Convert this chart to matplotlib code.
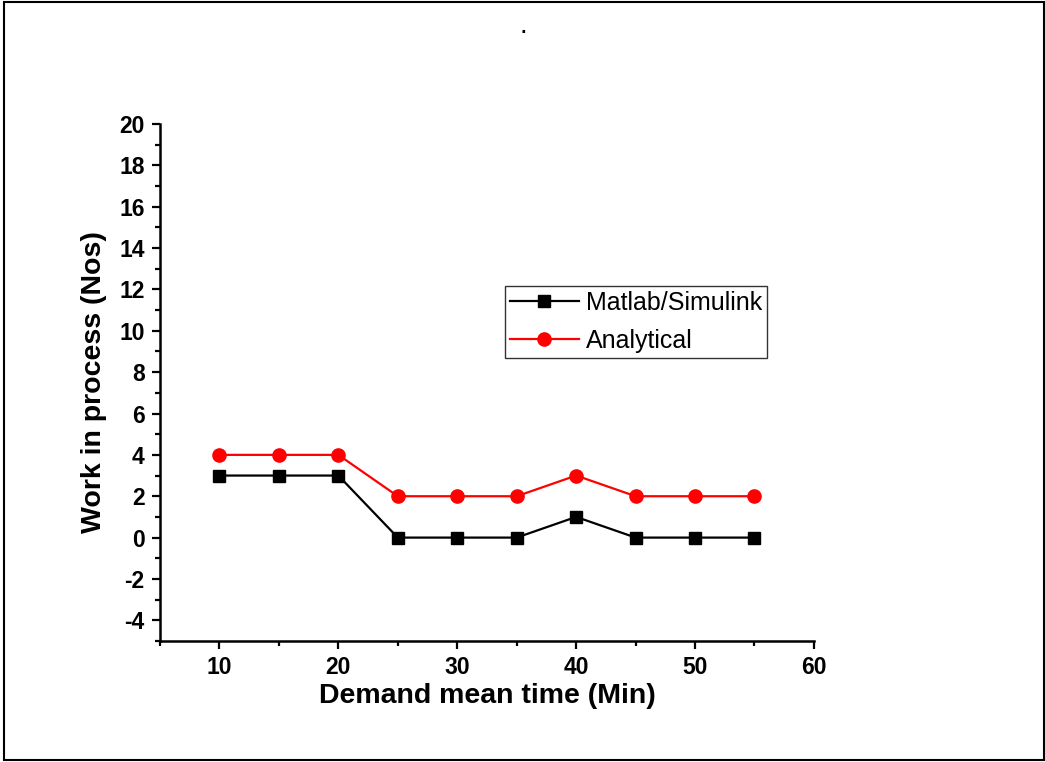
#!/usr/bin/env python3
import matplotlib

matplotlib.use("Agg")
import matplotlib.pyplot as plt
from matplotlib.patches import Rectangle
from matplotlib.ticker import MultipleLocator

OUT = "out.png"
FIGSIZE = (10.45, 7.62)
DPI = 100

demand_time = [10, 15, 20, 25, 30, 35, 40, 45, 50, 55]
wip_simulink = [3, 3, 3, 0, 0, 0, 1, 0, 0, 0]
wip_analytical = [4, 4, 4, 2, 2, 2, 3, 2, 2, 2]

plt.rcParams["font.family"] = ["Liberation Sans", "DejaVu Sans"]
plt.rcParams["axes.unicode_minus"] = False


def main():
    fig = plt.figure(figsize=FIGSIZE, dpi=DPI)
    ax = fig.add_axes([0.1531, 0.1588, 0.6258, 0.6785])

    ax.plot(demand_time, wip_simulink, color="black", marker="s",
            markersize=8, linewidth=1.6, label="Matlab/Simulink")
    ax.plot(demand_time, wip_analytical, color="red", marker="o",
            markersize=9.5, linewidth=1.6, label="Analytical")

    ax.set_xlim(5, 60)
    ax.set_ylim(-5, 20)
    ax.xaxis.set_major_locator(MultipleLocator(10))
    ax.xaxis.set_minor_locator(MultipleLocator(5))
    ax.yaxis.set_major_locator(MultipleLocator(2))
    ax.yaxis.set_minor_locator(MultipleLocator(1))

    for side in ("top", "right"):
        ax.spines[side].set_visible(False)
    for side in ("left", "bottom"):
        ax.spines[side].set_linewidth(1.8)

    ax.tick_params(which="major", direction="out", length=6, width=1.6,
                   labelsize=16.5, pad=5)
    ax.tick_params(which="minor", direction="out", length=3.5, width=1.6)
    for lbl in ax.get_xticklabels() + ax.get_yticklabels():
        lbl.set_fontweight("bold")

    ax.set_xlabel("Demand mean time (Min)", fontsize=20.5, fontweight="bold", labelpad=3)
    ax.set_ylabel("Work in process (Nos)", fontsize=20.5, fontweight="bold", labelpad=9)

    leg = ax.legend(loc="upper left", bbox_to_anchor=(0.5275, 0.6866),
                    borderaxespad=0, fontsize=18, frameon=True, fancybox=False,
                    edgecolor="black", handlelength=2.75, handletextpad=0.3,
                    borderpad=0.2, labelspacing=0.55)
    leg.get_frame().set_linewidth(1.0)

    fig.text(0.5005, 0.966, ".", ha="center", va="center", fontsize=20)

    # outer frame around the whole figure
    fig.patches.append(Rectangle((0.0035, 0.002), 0.9955, 0.995,
                                 transform=fig.transFigure, fill=False,
                                 edgecolor="black", linewidth=1.5))

    fig.savefig(OUT, dpi=DPI)


if __name__ == "__main__":
    main()
